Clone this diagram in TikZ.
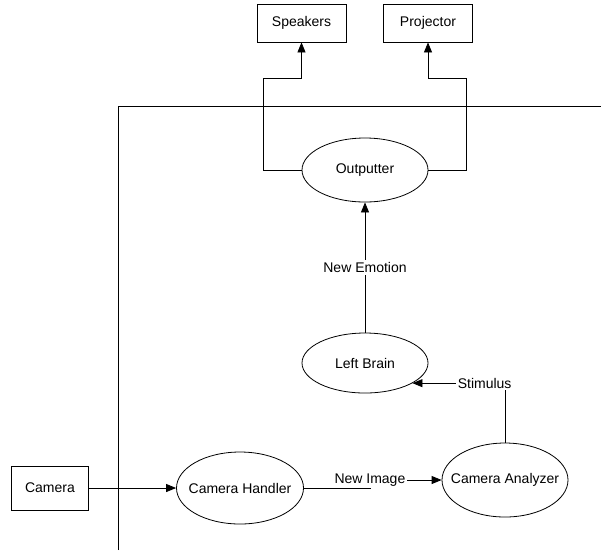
\documentclass[tikz,border=0pt]{standalone}
\usepackage{fontspec}
\setmainfont{Liberation Sans}
\usetikzlibrary{arrows.meta,positioning,shapes.geometric}

\begin{document}
\begin{tikzpicture}[x=1pt,y=-1pt,line width=0.8pt,
    >={Triangle[length=10pt,width=8pt]},
    font=\fontsize{14}{16}\selectfont,
    box/.style={draw,rectangle,minimum width=89pt,minimum height=38pt},
    proc/.style={draw,ellipse,inner sep=0pt,minimum width=126pt,minimum height=62pt},
    lbl/.style={fill=white,inner sep=2pt}]
        \useasboundingbox (0,0) rectangle (601,550);
        % boundary
        \draw (118,550) -- (118,106) -- (601,106);
        \node[box] (spk) at (301.5,23) {Speakers};
        \node[box] (proj) at (428,23) {Projector};
        \node[proc,minimum height=64pt] (out) at (365,170) {\makebox[0pt]{Outputter}};
        \node[proc,minimum height=60pt] (brain) at (365,363) {\makebox[0pt]{Left Brain}};
        \node[box,minimum width=77pt,minimum height=44pt] (cam) at (50,488) {Camera};
        \node[proc,minimum width=127pt,minimum height=72pt] (hand) at (240,488) {\makebox[0pt]{Camera Handler}};
        \node[proc,minimum height=74pt] (ana) at (505,480) {\makebox[0pt]{Camera Analyzer}};
        \draw[->] (out.west) -| ++(-38,-92) -| (spk.south);
        \draw[->] (out.east) -| ++(38,-92) -| (proj.south);
        \path[->]
        (cam)
        edge [] (hand)
        (brain)
        edge [] node [lbl] {New Emotion} (out)
        ;
        \draw[->] (hand.east) -- ++(66,0) |- node[lbl,pos=0.5] {New Image} (ana.west);
        \draw[->] (ana.north) |- node[lbl,pos=0.61] {Stimulus} (brain.-23);
      \end{tikzpicture}
\end{document}
